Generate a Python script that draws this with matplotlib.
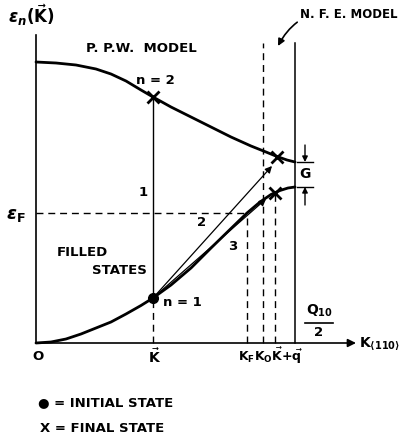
import numpy as np
import matplotlib.pyplot as plt

# band energies along <110> (arbitrary units, origin at O)
k_upper = [0, 20, 40, 60, 75, 90, 105, 117, 135, 155, 175, 195, 215, 230, 241, 251, 259]
e_upper = [281, 280, 278, 274, 269, 262, 253, 246, 236, 226, 216, 206, 197, 191, 186.5, 183, 181]
k_lower = [0, 15, 30, 45, 60, 75, 90, 105, 117, 135, 155, 175, 195, 211, 224, 235, 244, 252, 259]
e_lower = [0, 1, 4, 9, 15, 21, 29, 37.5, 45, 58, 75, 95, 114.5, 130, 141, 148.5, 152.5, 155, 156]

k_vec = 117      # initial wavevector K
k_F = 211
k_O = 227
k_q = 239        # K + q
k_zone = 259     # Q10 / 2
e_fermi = 130
e_top = 300

initial = (117, 45)
final_upper = (241, 186.5)
final_lower = (239, 150)
arrow2_end = (236, 177)
arrow3_end = (230, 144)

plt.rcParams['font.family'] = 'DejaVu Sans'
plt.rcParams['font.weight'] = 'bold'
plt.rcParams['mathtext.fontset'] = 'dejavusans'

fig = plt.figure(figsize=(4.08, 4.41), dpi=100)
ax = fig.add_axes([0, 0, 1, 1])
ax.set_xlim(-36, 372)
ax.set_ylim(-98, 343)
ax.axis('off')

lw_axis = 1.2
dash = (0, (5, 3.5))

# axes
ax.plot([0, 0], [0, 308], color='black', lw=lw_axis)
ax.annotate('', xy=(320, 0), xytext=(0, 0),
            arrowprops=dict(arrowstyle='-|>', color='black', lw=lw_axis,
                            mutation_scale=12, shrinkA=0, shrinkB=0))

# bands
ax.plot(k_upper, e_upper, color='black', lw=2.0, solid_capstyle='round', solid_joinstyle='round')
ax.plot(k_lower, e_lower, color='black', lw=2.0, solid_capstyle='round', solid_joinstyle='round')

# verticals
ax.plot([k_vec, k_vec], [initial[1], e_upper[7]], color='black', lw=1.0)
ax.plot([k_vec, k_vec], [0, initial[1]], color='black', lw=1.0, linestyle=dash)
ax.plot([k_F, k_F], [0, e_fermi], color='black', lw=1.0, linestyle=dash)
ax.plot([k_O, k_O], [0, e_top], color='black', lw=1.0, linestyle=dash)
ax.plot([k_q, k_q], [0, final_lower[1]], color='black', lw=1.0, linestyle=dash)
ax.plot([k_zone, k_zone], [0, e_top], color='black', lw=1.1)

# Fermi level
ax.plot([0, k_F], [e_fermi, e_fermi], color='black', lw=1.0, linestyle=dash)

# transitions
ax.annotate('', xy=arrow2_end, xytext=initial,
            arrowprops=dict(arrowstyle='-|>', color='black', lw=0.9,
                            mutation_scale=10, shrinkA=0, shrinkB=0))
ax.annotate('', xy=arrow3_end, xytext=initial,
            arrowprops=dict(arrowstyle='-|>', color='black', lw=0.9,
                            mutation_scale=10, shrinkA=0, shrinkB=0))

# states
ax.plot(*initial, marker='o', color='black', markersize=7)
for p in [(k_vec, e_upper[7]), final_upper, final_lower]:
    ax.plot(*p, marker='x', color='black', markersize=8, mew=2)

# gap G
ax.plot([261, 277], [e_upper[-1], e_upper[-1]], color='black', lw=1.0)
ax.plot([261, 277], [e_lower[-1], e_lower[-1]], color='black', lw=1.0)
ax.annotate('', xy=(269, e_upper[-1]), xytext=(269, 198),
            arrowprops=dict(arrowstyle='-|>', color='black', lw=1.0,
                            mutation_scale=8, shrinkA=0, shrinkB=0))
ax.annotate('', xy=(269, e_lower[-1]), xytext=(269, 138),
            arrowprops=dict(arrowstyle='-|>', color='black', lw=1.0,
                            mutation_scale=8, shrinkA=0, shrinkB=0))
ax.text(269, 169, 'G', ha='center', va='center', fontsize=10)

# N.F.E. pointer
ax.annotate('N. F. E. MODEL', xy=(242, 297), xytext=(264, 328),
            ha='left', va='center', fontsize=8.5,
            arrowprops=dict(arrowstyle='-|>', color='black', lw=1.2,
                            mutation_scale=10, shrinkA=0, shrinkB=0,
                            connectionstyle='arc3,rad=0.4'))

fs = 9.5
ax.text(-28, 328, r'$\epsilon_n(\vec{\mathbf{K}})$', ha='left', va='center', fontsize=12)
ax.text(105, 295, 'P. P.W.  MODEL', ha='center', va='center', fontsize=fs)
ax.text(119, 263, 'n = 2', ha='center', va='center', fontsize=fs)
ax.text(107, 150, '1', ha='center', va='center', fontsize=fs)
ax.text(166, 120, '2', ha='center', va='center', fontsize=fs)
ax.text(197, 96, '3', ha='center', va='center', fontsize=fs)
ax.text(-30, 128, r'$\epsilon_{\mathbf{F}}$', ha='left', va='center', fontsize=13)
ax.text(46, 91, 'FILLED', ha='center', va='center', fontsize=fs)
ax.text(83, 72, 'STATES', ha='center', va='center', fontsize=fs)
ax.text(127, 41, 'n = 1', ha='left', va='center', fontsize=fs)

# tick labels
ax.text(2, -14, 'O', ha='center', va='center', fontsize=fs)
ax.text(119, -14, r'$\vec{\mathbf{K}}$', ha='center', va='center', fontsize=10)
ax.text(202, -13, r'$\mathbf{K_F K_O}\vec{\mathbf{K}}\mathbf{+}\vec{\mathbf{q}}$',
        ha='left', va='center', fontsize=9)
ax.text(283, 32, r'$\mathbf{Q_{10}}$', ha='center', va='center', fontsize=10)
ax.plot([269, 297], [20, 20], color='black', lw=1.2)
ax.text(283, 10, '2', ha='center', va='center', fontsize=fs)
ax.text(323, 0, r'$\mathbf{K_{\langle 110\rangle}}$', ha='left', va='center', fontsize=10)

# key
ax.text(2, -60, '● = INITIAL STATE', ha='left', va='center', fontsize=fs)
ax.text(4, -85, 'X = FINAL STATE', ha='left', va='center', fontsize=fs)

fig.savefig('out.png', dpi=100)
